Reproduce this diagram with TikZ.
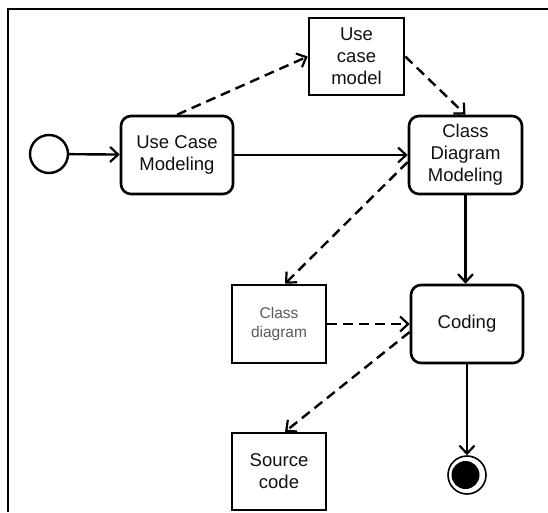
\documentclass[tikz,border=0pt]{standalone}
\usepackage{fontspec}
\setmainfont{Liberation Sans}
\usetikzlibrary{arrows.meta}
\definecolor{lightlabel}{HTML}{5A5A5A}
\definecolor{inkcol}{HTML}{111111}
\begin{document}
\begin{tikzpicture}[x=1pt,y=1pt,
  every node/.style={font=\fontsize{18.5}{22}\selectfont, align=center, inner sep=0pt, text=inkcol},
  activity/.style={draw, line width=2.6pt, rounded corners=10pt, minimum width=112pt, minimum height=78pt},
  artifact/.style={draw, line width=2.6pt, minimum width=95pt, minimum height=77pt},
  flow/.style={line width=2.4pt, -{Straight Barb[length=8pt,width=15pt,line width=2.2pt]}},
  objflow/.style={flow, dash pattern=on 10pt off 6pt}
]
\useasboundingbox (0,0) rectangle (548,-512);
% outer frame (top and left edges)
\draw[line width=2.6pt] (548,-9) -- (8,-9) -- (8,-512);

% nodes
\node[draw, circle, line width=2.4pt, minimum size=38pt] (init) at (49,-154) {};
\node[activity] (ucm) at (177,-155) {Use Case\\Modeling};
\node[artifact] (ucmodel) at (356.5,-56.5) {Use\\case\\model};
\node[activity, minimum width=113pt] (cdm) at (465.5,-155) {Class\\Diagram\\Modeling};
\node[artifact, minimum width=94pt, minimum height=78pt,
      font=\fontsize{15.5}{19}\selectfont, text=lightlabel] (cd) at (279,-324) {Class\\diagram};
\node[activity] (coding) at (467,-324) {Coding};
\node[artifact, minimum width=94pt] (src) at (279,-471.5) {Source\\code};
\node[draw, circle, line width=1.6pt, minimum size=38pt] (final) at (467,-475) {};
\fill ([xshift=-1.5pt]final.center) circle (14pt);

% control flow
\draw[flow] (init) -- (ucm);
\draw[flow] (ucm) -- (cdm);
\draw[flow] (cdm.south) -- (coding.north -| cdm.south);
\draw[flow] (coding) -- (final);

% object flow
\draw[objflow] (ucm.north) -- (ucmodel.west);
\draw[objflow] (ucmodel.east) -- (cdm.north);
\draw[objflow] ([yshift=-7pt]cdm.west) -- ([xshift=6pt]cd.north);
\draw[objflow] (cd.east) -- (coding.west);
\draw[objflow] ([yshift=-8pt]coding.west) -- ([xshift=6pt]src.north);
\end{tikzpicture}
\end{document}
